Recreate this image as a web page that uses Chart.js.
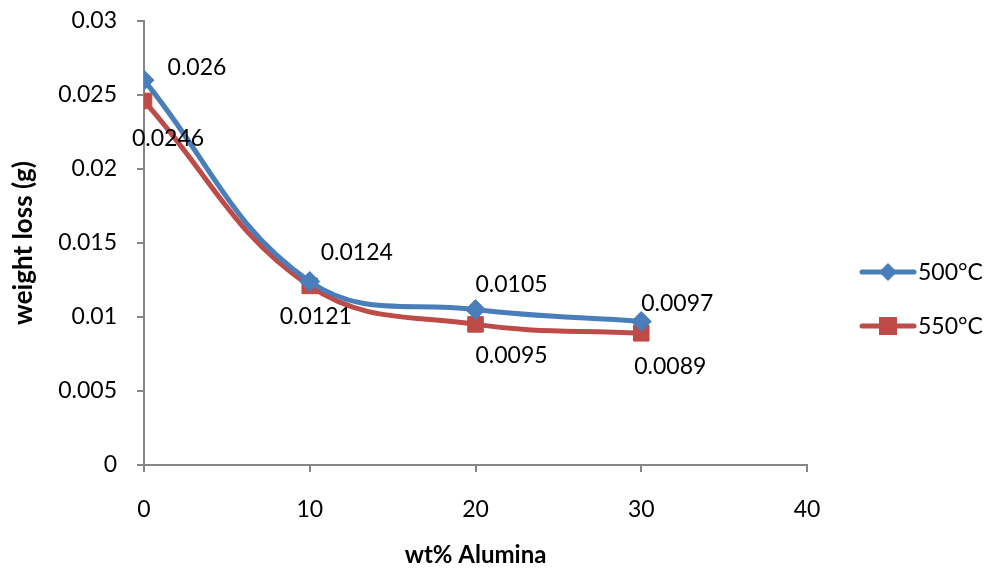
<!DOCTYPE html>
<html>
<head>
<meta charset="utf-8">
<script src="https://cdn.jsdelivr.net/npm/chart.js@4/dist/chart.umd.min.js"></script>
<style>
  html, body { margin: 0; padding: 0; background: #fff; }
  #wrap { width: 989px; height: 574px; position: relative; }
</style>
</head>
<body>
<div id="wrap"><canvas id="c" width="989" height="574"></canvas></div>
<script>
// données
const alumina = [0, 10, 20, 30];
const loss500 = [0.026, 0.0124, 0.0105, 0.0097];
const loss550 = [0.0246, 0.0121, 0.0095, 0.0089];
const seriesNames = ['500°C', '550°C'];
const yTicks = [0, 0.005, 0.01, 0.015, 0.02, 0.025, 0.03];

const C = { blue: '#4a7ebb', red: '#be4b48', axis: '#868686', ink: '#000' };
const FONT = "Lato, 'Open Sans', sans-serif";
const FS = 23;

// décalages des étiquettes (px) par point, comme dans l'original
const labelOff = [
  [[53, -13], [47, -29], [36, -25], [36, -18]],
  [[24, 38], [6, 31], [36, 31], [29, 33]],
];

const labels = {
  id: 'labels',
  afterDatasetsDraw(ch) {
    const ctx = ch.ctx;
    ctx.save();
    ctx.font = FS + 'px ' + FONT;
    ctx.fillStyle = C.ink;
    ctx.textAlign = 'center';
    ctx.textBaseline = 'middle';
    ch.data.datasets.forEach((ds, i) => {
      ch.getDatasetMeta(i).data.forEach((pt, j) => {
        const o = labelOff[i][j];
        ctx.fillText(String(ds.data[j].y), pt.x + o[0], pt.y + o[1]);
      });
    });
    ctx.restore();
  },
};

// légende à droite : trait + marqueur
const legend = {
  id: 'legendR',
  afterDraw(ch) {
    const ctx = ch.ctx;
    ctx.save();
    ch.data.datasets.forEach((ds, i) => {
      const y = 272 + i * 54;
      ctx.strokeStyle = ds.borderColor;
      ctx.lineWidth = 5; ctx.lineCap = 'round';
      ctx.beginPath(); ctx.moveTo(862, y); ctx.lineTo(914, y); ctx.stroke();
      ctx.fillStyle = ds.pointBackgroundColor;
      ctx.beginPath();
      if (ds.pointStyle === 'rect') ctx.rect(879, y - 9, 18, 18);
      else { ctx.moveTo(888, y - 9); ctx.lineTo(897, y); ctx.lineTo(888, y + 9); ctx.lineTo(879, y); ctx.closePath(); }
      ctx.fill();
      ctx.fillStyle = C.ink;
      ctx.font = FS + 'px ' + FONT;
      ctx.textBaseline = 'middle';
      ctx.fillText(seriesNames[i], 918, y + 1);
    });
    ctx.restore();
  },
};

function serie(vals, color, style, r) {
  return {
    label: '', data: alumina.map((x, i) => ({ x, y: vals[i] })),
    borderColor: color, backgroundColor: color, pointBackgroundColor: color, pointBorderColor: color,
    borderWidth: 5, tension: 0.4, cubicInterpolationMode: 'default',
    pointStyle: style, pointRadius: r, pointHoverRadius: r, pointBorderWidth: 1,
  };
}

new Chart(document.getElementById('c'), {
  type: 'line',
  data: {
    datasets: [
      serie(loss500, C.blue, 'rectRot', 10),
      serie(loss550, C.red, 'rect', 11),
    ],
  },
  options: {
    responsive: false, animation: false,
    layout: { padding: { top: 21, right: 182, left: 4, bottom: 0 } },
    plugins: { legend: { display: false }, tooltip: { enabled: false } },
    scales: {
      x: {
        type: 'linear', min: 0, max: 40,
        afterBuildTicks: (s) => { s.ticks = [0, 10, 20, 30, 40].map((v) => ({ value: v })); },
        afterFit: (s) => { s.height = 109; s.paddingLeft = 0; s.paddingRight = 0; },
        grid: { drawOnChartArea: false, drawTicks: true, tickLength: 7, color: C.axis, lineWidth: 2 },
        border: { color: C.axis, width: 2 },
        ticks: { color: C.ink, font: { family: FONT, size: FS }, padding: 24, maxRotation: 0 },
        title: { display: true, text: 'wt% Alumina', color: C.ink, font: { family: FONT, size: 24, weight: 'bold' }, padding: { top: 8 } },
      },
      y: {
        min: 0, max: 0.03,
        afterBuildTicks: (s) => { s.ticks = yTicks.map((v) => ({ value: v })); },
        afterFit: (s) => { s.width = 140; s.paddingTop = 0; s.paddingBottom = 0; },
        grid: { drawOnChartArea: false, drawTicks: true, tickLength: 7, color: C.axis, lineWidth: 2 },
        border: { color: C.axis, width: 2 },
        ticks: { color: C.ink, font: { family: FONT, size: FS }, padding: 20, callback: (v) => String(+v.toFixed(3)) },
        title: { display: true, text: 'weight loss (g)', color: C.ink, font: { family: FONT, size: 26, weight: 'bold' }, padding: { bottom: 8 } },
      },
    },
  },
  plugins: [labels, legend],
});
</script>
</body>
</html>
